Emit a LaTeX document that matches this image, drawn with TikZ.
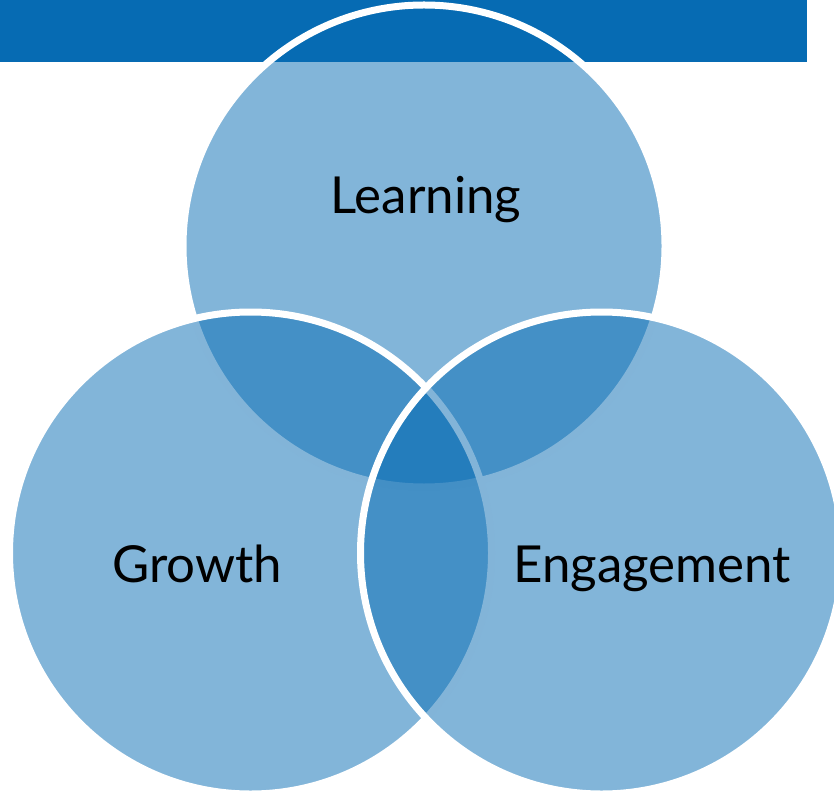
\documentclass[tikz,border=0pt]{standalone}
\usepackage{fontspec}
\setmainfont{Lato}
\definecolor{venn_blue}{RGB}{6, 107, 179}
\usepackage{tikz}
\usetikzlibrary{positioning}

\tikzset{
  petal/.style={fill=venn_blue, fill opacity=0.5},
  rim/.style={draw=white, draw opacity=1, line width=7pt},
  tag/.style={font=\fontsize{51}{61}\selectfont, text=black, anchor=base}
}

\begin{document}
\begin{tikzpicture}[x=1pt, y=-1pt]
        \useasboundingbox (0,0) rectangle (834,791);

        % --- Header band ---
        \fill[venn_blue] (0,0) rectangle (807,62);

        % --- Circle centres ---
        \coordinate (learn) at (424,246);
        \coordinate (grow)  at (250.5,553);
        \coordinate (engage) at (601.5,553);

        % --- Circles: fill first, white rim on top ---
        \fill[petal] (learn) circle[radius=241pt];
        \draw[rim] (learn) circle[radius=241pt];
        \fill[petal] (grow) circle[radius=241pt];
        \draw[rim] (grow) circle[radius=241pt];
        \fill[petal] (engage) circle[radius=241pt];
        \draw[rim] (engage) circle[radius=241pt];

        % --- Labels ---
        \node[tag] (learnlbl)  at (426,214) {Learning};
        \node[tag] (growlbl)   at (197,582) {Growth};
        \node[tag] (engagelbl) at (652,582) {Engagement};
      \end{tikzpicture}
\end{document}
